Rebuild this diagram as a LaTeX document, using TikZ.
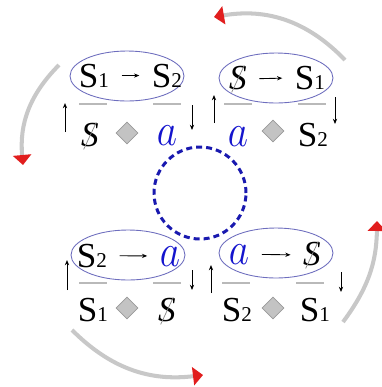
\documentclass[tikz,border=0pt]{standalone}
\usepackage{fontspec}
\usepackage{graphicx}
\setmainfont{Liberation Serif}
\usetikzlibrary{arrows.meta,shapes.geometric}
\definecolor{ovalblue}{RGB}{110,110,190}
\definecolor{actblue}{RGB}{20,20,205}
\definecolor{ringblue}{RGB}{25,25,175}
\definecolor{bargrey}{RGB}{185,185,185}
\definecolor{loopgrey}{RGB}{200,200,200}
\definecolor{tipred}{RGB}{225,30,30}
\definecolor{gemgrey}{RGB}{195,195,195}
\definecolor{slashgrey}{RGB}{130,130,130}
\newcommand\sOne{S{\fontsize{12}{14}\selectfont 1}}
\newcommand\sTwo{S{\fontsize{12}{14}\selectfont 2}}
\newcommand\sNot{\ooalign{\textit{S}\cr\hidewidth\raisebox{-2pt}{\rotatebox{65}{\textcolor{slashgrey}{\rule{17pt}{0.4pt}}}}\hidewidth\cr}}
\newcommand\aAct{\textcolor{actblue}{\scalebox{0.9}[1.05]{\fontsize{26}{28}\selectfont$a$}}}
\tikzset{
  sym/.style={font=\fontsize{20}{24}\selectfont, inner xsep=7pt, inner ysep=1pt, anchor=base},
  oval/.style={ellipse, draw=ovalblue, line width=0.5pt, minimum width=2.28cm, minimum height=1cm},
  bar/.style={fill=bargrey, inner sep=0pt, minimum width=0.56cm, minimum height=1.1pt},
  gem/.style={diamond, draw=gray!80, fill=gemgrey, line width=0.4pt, inner sep=0pt, minimum size=0.44cm},
  arr/.style={-{Stealth[length=3pt,width=2.4pt]}, line width=0.5pt},
  loop/.style={draw=loopgrey, line width=2.3pt, -{Triangle[length=0.2cm,width=0.36cm,color=tipred]}},
  ring/.style={circle, draw=ringblue, line width=1.7pt, dash pattern=on 3.4pt off 2.3pt, minimum size=1.84cm},
}
\begin{document}
\begin{tikzpicture}[x=0.02cm,y=-0.02cm]
  \useasboundingbox (0,0) rectangle (382,387);
  % centre
  \node[ring] (hub) at (200,193) {};
  % top left
  \node[oval] (tlO) at (127,76) {};
  \node[sym] (tlA) at (94,87) {\sOne};
  \node[sym] (tlB) at (167,87) {\sTwo};
  \draw[arr] (tlA) -- (tlB);
  \node[bar] (tlL) at (93,104) {};
  \node[bar] (tlR) at (167,104) {};
  \node[sym] (tlC) at (90,146) {\sNot};
  \node[gem] (tlG) at (127,133) {};
  \node[sym] (tlD) at (167,145) {\aAct};
  \coordinate (tlU1) at (65,132); \coordinate (tlU2) at (65,103);
  \coordinate (tlD1) at (192,105); \coordinate (tlD2) at (192,130);
  \draw[arr] (tlU1) -- (tlU2);
  \draw[arr] (tlD1) -- (tlD2);
  % top right
  \node[oval] (trO) at (276,78) {};
  \node[sym] (trA) at (238,89) {\sNot};
  \node[sym] (trB) at (310,89) {\sOne};
  \draw[arr] (trA) -- (trB);
  \node[bar] (trL) at (238,104) {};
  \node[bar] (trR) at (312,104) {};
  \node[sym] (trC) at (238,146) {\aAct};
  \node[gem] (trG) at (273,131) {};
  \node[sym] (trD) at (313,146) {\sTwo};
  \coordinate (trU1) at (214,123); \coordinate (trU2) at (214,95);
  \coordinate (trD1) at (335,97); \coordinate (trD2) at (335,124);
  \draw[arr] (trU1) -- (trU2);
  \draw[arr] (trD1) -- (trD2);
  % bottom left
  \node[oval] (blO) at (128,255) {};
  \node[sym] (blA) at (92,267) {\sTwo};
  \node[sym] (blB) at (170,266) {\aAct};
  \draw[arr] (blA) -- (blB);
  \node[bar] (blL) at (93,283) {};
  \node[bar] (blR) at (167,283) {};
  \node[sym] (blC) at (93,321) {\sOne};
  \node[gem] (blG) at (127,308) {};
  \node[sym] (blD) at (167,321) {\sNot};
  \coordinate (blU1) at (67,290); \coordinate (blU2) at (67,260);
  \coordinate (blD1) at (192,270); \coordinate (blD2) at (192,290);
  \draw[arr] (blU1) -- (blU2);
  \draw[arr] (blD1) -- (blD2);
  % bottom right
  \node[oval] (brO) at (276,253) {};
  \node[sym] (brA) at (239,264) {\aAct};
  \node[sym] (brB) at (312,265) {\sNot};
  \draw[arr] (brA) -- (brB);
  \node[bar] (brL) at (236,283) {};
  \node[bar] (brR) at (310,283) {};
  \node[sym] (brC) at (237,321) {\sTwo};
  \node[gem] (brG) at (273,308) {};
  \node[sym] (brD) at (315,321) {\sOne};
  \coordinate (brU1) at (211,293); \coordinate (brU2) at (211,265);
  \coordinate (brD1) at (341,272); \coordinate (brD2) at (341,292);
  \draw[arr] (brU1) -- (brU2);
  \draw[arr] (brD1) -- (brD2);
  % outer cycle
  \coordinate (c1s) at (59,65);   \coordinate (c1e) at (23,165);
  \coordinate (c2s) at (72,330);  \coordinate (c2e) at (203,375);
  \coordinate (c3s) at (343,322); \coordinate (c3e) at (377,221);
  \coordinate (c4s) at (345,60);  \coordinate (c4e) at (214,17);
  \draw[loop] (c1s) to[bend right=25] (c1e);
  \draw[loop] (c2s) to[bend right=26] (c2e);
  \draw[loop] (c3s) to[bend right=18] (c3e);
  \draw[loop] (c4s) to[bend right=28] (c4e);
\end{tikzpicture}
\end{document}
